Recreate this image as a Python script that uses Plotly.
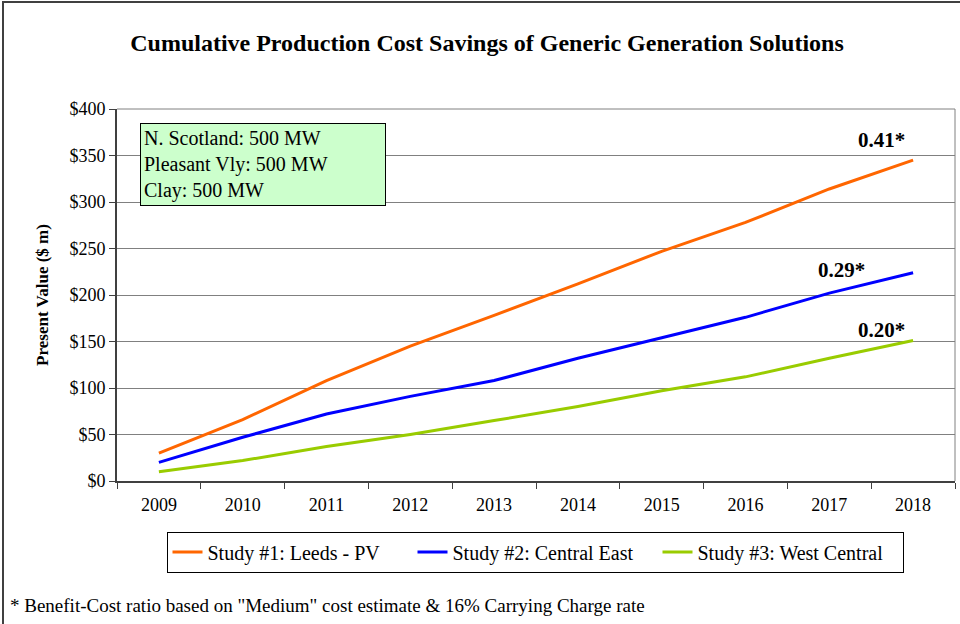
import plotly.graph_objects as go

years = ["2009", "2010", "2011", "2012", "2013", "2014", "2015", "2016", "2017", "2018"]
study1 = [30, 66, 108, 145, 178, 212, 247, 278, 314, 345]
study2 = [20, 47, 72, 91, 108, 132, 154, 176, 202, 224]
study3 = [10, 22, 37, 50, 65, 80, 97, 112, 132, 151]
names = ["Study #1: Leeds - PV", "Study #2: Central East", "Study #3: West Central"]
colors = ["#FF6600", "#0000FF", "#99CC00"]
ratios = ["0.41*", "0.29*", "0.20*"]
yticks = [0, 50, 100, 150, 200, 250, 300, 350, 400]
yticktext = ["$" + str(v) for v in yticks]

FONT = "Liberation Serif"
W, H = 960, 624
L, R, T, B = 117, 5, 109, 143
pw, ph = W - L - R, H - T - B

def px(x):
    return (x - L) / pw

def py(y):
    return (H - B - y) / ph

fig = go.Figure()
for vals, nm, c in zip([study1, study2, study3], names, colors):
    fig.add_trace(go.Scatter(x=years, y=vals, mode="lines", name=nm,
                             line=dict(color=c, width=3)))

# ratio labels near line ends
last = len(years) - 1
label_pos = [(study1, -32, 20), (study2, -72, 3), (study3, -32, 11)]
for (vals, dx, dy), txt in zip(label_pos, ratios):
    fig.add_annotation(x=last, y=vals[-1], text="<b>" + txt + "</b>",
                       showarrow=False, xshift=dx, yshift=dy,
                       font=dict(family=FONT, size=21, color="black"))

# info box
fig.add_annotation(xref="paper", yref="paper", x=px(140), y=py(123),
                   xanchor="left", yanchor="top", align="left",
                   text="N. Scotland: 500 MW<br>Pleasant Vly: 500 MW<br>Clay: 500 MW",
                   showarrow=False, bgcolor="#CCFFCC", bordercolor="black",
                   borderwidth=1, borderpad=3, width=238,
                   font=dict(family=FONT, size=20, color="black"))

# footnote
fig.add_annotation(xref="paper", yref="paper", x=px(8), y=py(605),
                   xanchor="left", yanchor="middle", showarrow=False,
                   text='* Benefit-Cost ratio based on "Medium" cost estimate &amp; 16% Carrying Charge rate',
                   font=dict(family=FONT, size=19, color="black"))

# outer chart border
fig.add_shape(type="rect", xref="paper", yref="paper",
              x0=px(3), x1=px(962), y0=py(640), y1=py(2),
              line=dict(color="#404040", width=2), layer="below")

fig.update_layout(
    width=W, height=H,
    margin=dict(l=L, r=R, t=T, b=B),
    paper_bgcolor="white", plot_bgcolor="white",
    font=dict(family=FONT, size=18, color="black"),
    title=dict(text="<b>Cumulative Production Cost Savings of Generic Generation Solutions</b>",
               xref="container", x=487 / W, xanchor="center", y=1 - 43 / H, yanchor="middle",
               font=dict(family=FONT, size=24, color="black")),
    showlegend=True,
    legend=dict(orientation="h", x=px(535), xanchor="center",
                y=py(552), yanchor="middle",
                bordercolor="black", borderwidth=1, bgcolor="white",
                font=dict(family=FONT, size=20, color="black"),
                entrywidth=200, tracegroupgap=0),
    xaxis=dict(type="category", range=[-0.5, 9.5], tickson="boundaries",
               ticks="outside", ticklen=6, tickcolor="#404040",
               showline=True, linecolor="#404040", linewidth=2, mirror=False,
               showgrid=False, tickfont=dict(family=FONT, size=18),
               ticklabelstandoff=6),
    yaxis=dict(range=[0, 400], tickmode="array", tickvals=yticks, ticktext=yticktext,
               ticks="outside", ticklen=6, tickcolor="#404040",
               showline=True, linecolor="#404040", linewidth=2,
               showgrid=True, gridcolor="#808080", gridwidth=1,
               zeroline=False, tickfont=dict(family=FONT, size=18),
               title=dict(text="<b>Present Value ($ m)</b>", standoff=16,
                          font=dict(family=FONT, size=17))),
)

# top and right plot border (gray)
fig.add_shape(type="line", xref="paper", yref="paper", x0=0, x1=1, y0=1, y1=1,
              line=dict(color="#808080", width=1))
fig.add_shape(type="line", xref="paper", yref="paper", x0=1, x1=1, y0=0, y1=1,
              line=dict(color="#808080", width=1))

fig.write_html("out.html", config={"displayModeBar": False},
               post_script="document.body.style.margin='0';")
